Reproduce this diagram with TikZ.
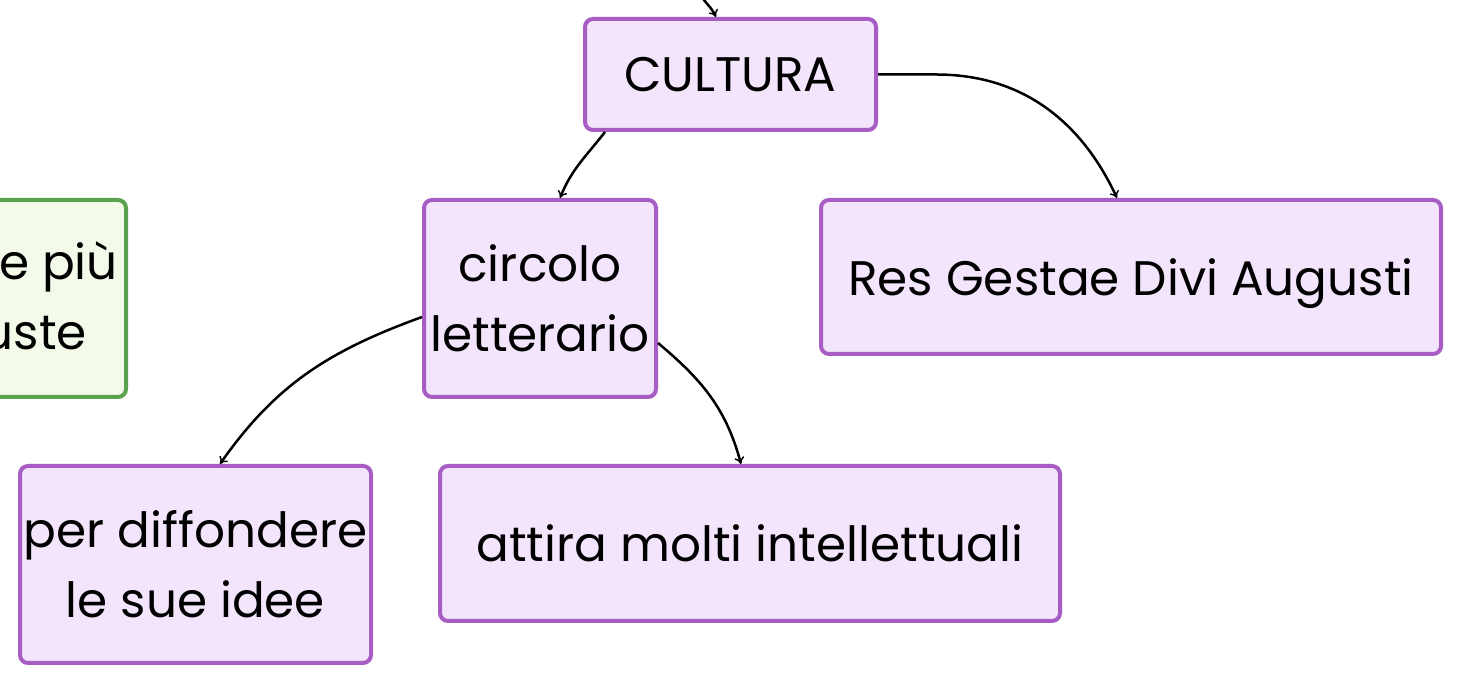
\documentclass[tikz,border=0pt]{standalone}
\usepackage{fontspec}
\setmainfont{Poppins}
\usetikzlibrary{arrows.meta,calc}
\definecolor{pborder}{HTML}{A85DC4}
\definecolor{pfill}{HTML}{F3E5FC}
\definecolor{gborder}{HTML}{5AA34E}
\definecolor{gfill}{HTML}{F3FAEA}
\tikzset{
  box/.style={draw=pborder,fill=pfill,line width=4pt,rounded corners=8pt,
    inner sep=0pt,align=center,font=\fontsize{48.5}{70}\selectfont},
  gbox/.style={draw=gborder,fill=gfill,line width=4pt,rounded corners=8pt},
  gtext/.style={inner sep=0pt,font=\fontsize{48.5}{70}\selectfont},
  conn/.style={draw=black,line width=2.5pt,-{To[length=7pt,width=10pt,line width=1.5pt]}}
}
\begin{document}
\begin{tikzpicture}[x=1pt,y=1pt]
\useasboundingbox (0,0) rectangle (1461,684);
\clip (0,0) rectangle (1461,684);
\fill[white] (0,0) rectangle (1461,684);
% green partial box
\draw[gbox] (-200,287) rectangle (126,484);
\node[gtext,anchor=base east] (g1) at (118,404) {e più};
\node[gtext,anchor=base east] (g2) at (87,334) {uste};
% nodes
\node[box,minimum width=291pt,minimum height=111pt] (cultura) at (730.5,609.5) {CULTURA};
\node[box,minimum width=232pt,minimum height=197pt] (circolo) at (540,385.5) {circolo\\letterario};
\node[box,minimum width=620pt,minimum height=154pt,text depth=0pt] (res) at (1131,407) {Res Gestae Divi Augusti};
\node[box,minimum width=351pt,minimum height=197pt] (per) at (195.5,119.5) {per diffondere\\le sue idee};
\node[box,minimum width=620pt,minimum height=155pt] (attira) at (750,140.5) {attira molti intellettuali};
\coordinate (topin) at (700,690);
% connectors
\draw[conn] (topin) to[out=-60,in=115] ($(cultura.north)+(-14.5,0)$);
\draw[conn] ($(cultura.south west)+(22,0)$) to[out=-128,in=68] ($(circolo.north)+(20,0)$);
\draw[conn] (cultura.east) -- ++(58,0) to[out=0,in=115] ($(res.north)+(-14,0)$);
\draw[conn] ($(circolo.west)+(0,-18.5)$) to[out=200,in=55] ($(per.north)+(24.5,0)$);
\draw[conn] ($(circolo.east)+(0,-44.5)$) to[out=-40,in=105] ($(attira.north)+(-9,0)$);
\end{tikzpicture}
\end{document}
